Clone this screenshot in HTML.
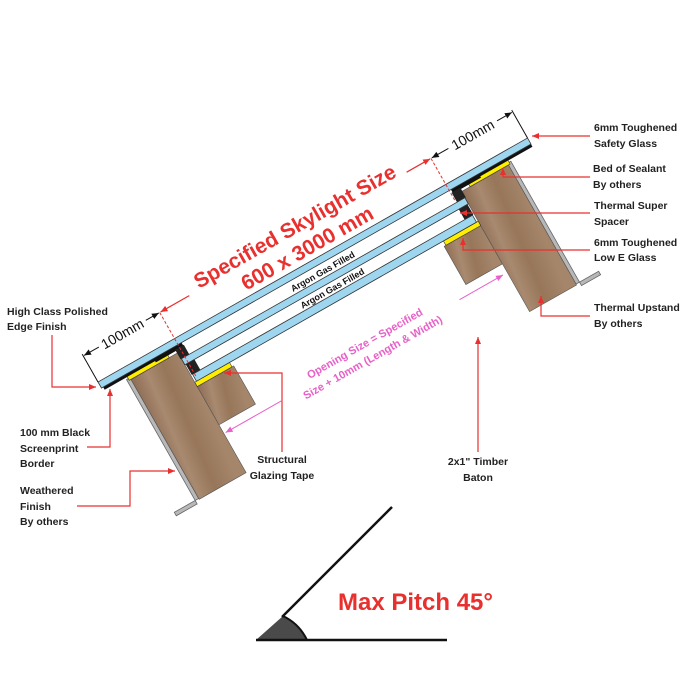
<!DOCTYPE html>
<html><head><meta charset="utf-8"><style>
html,body{margin:0;padding:0;background:#fff;}
svg{display:block;}
text{font-family:"Liberation Sans",sans-serif;}
.lb{font-size:10.5px;font-weight:bold;fill:#222;}
</style></head><body>
<svg width="700" height="700" viewBox="0 0 700 700" xmlns="http://www.w3.org/2000/svg">
<defs>
<linearGradient id="wood" x1="0" y1="0" x2="1" y2="0.3">
<stop offset="0" stop-color="#8e6d55"/><stop offset="0.3" stop-color="#a88a70"/><stop offset="0.6" stop-color="#977659"/><stop offset="1" stop-color="#a5866b"/>
</linearGradient>
<marker id="ar" markerWidth="8" markerHeight="8" refX="7" refY="4" orient="auto" markerUnits="userSpaceOnUse"><path d="M0,1 L7,4 L0,7 Z" fill="#e8302e"/></marker>
<marker id="ak" markerWidth="8" markerHeight="8" refX="7" refY="4" orient="auto" markerUnits="userSpaceOnUse"><path d="M0,1 L7,4 L0,7 Z" fill="#111"/></marker>
<marker id="ap" markerWidth="8" markerHeight="8" refX="7" refY="4" orient="auto" markerUnits="userSpaceOnUse"><path d="M0,1 L7,4 L0,7 Z" fill="#e860c8"/></marker>
</defs>

<g transform="translate(98,382) rotate(-29.6)">
 <path d="M26,12 L30,12 L30,151 L2,151 L2,155 L26,155 Z" fill="#b8b8b8" stroke="#666" stroke-width="0.8"/>
 <path d="M468,12 L464,12 L464,151 L490,151 L490,155 L468,155 Z" fill="#b8b8b8" stroke="#666" stroke-width="0.8"/>
 <rect x="84" y="53" width="42" height="44" fill="url(#wood)" stroke="#555" stroke-width="0.6"/>
 <rect x="368" y="53" width="42" height="44" fill="url(#wood)" stroke="#555" stroke-width="0.6"/>
 <rect x="30" y="14" width="54" height="138" fill="url(#wood)" stroke="#555" stroke-width="0.6"/>
 <rect x="410" y="14" width="54" height="138" fill="url(#wood)" stroke="#555" stroke-width="0.6"/>
 <rect x="28" y="9" width="46" height="5" fill="#ffee00" stroke="#333" stroke-width="0.6"/>
 <rect x="420" y="9" width="46" height="5" fill="#ffee00" stroke="#333" stroke-width="0.6"/>
 <rect x="84" y="48" width="40" height="5" fill="#ffee00" stroke="#333" stroke-width="0.6"/>
 <rect x="370" y="48" width="40" height="5" fill="#ffee00" stroke="#333" stroke-width="0.6"/>
 <rect x="2" y="7" width="90" height="3" fill="#111"/>
 <rect x="60" y="7" width="32" height="4.5" fill="#111"/>
 <rect x="402" y="7" width="92" height="3" fill="#111"/>
 <rect x="402" y="7" width="32" height="4.5" fill="#111"/>
 <rect x="83" y="10" width="10" height="11" fill="#222"/>
 <rect x="401" y="10" width="10" height="11" fill="#222"/>
 <rect x="85" y="28" width="10" height="12" fill="#222"/>
 <rect x="399" y="28" width="10" height="12" fill="#222"/>
 <rect x="0" y="0" width="494" height="7" fill="#9fd6ef" stroke="#333" stroke-width="0.8"/>
 <rect x="84" y="21" width="326" height="7" fill="#9fd6ef" stroke="#333" stroke-width="0.8"/>
 <rect x="86" y="40" width="322" height="8" fill="#9fd6ef" stroke="#333" stroke-width="0.8"/>
 <text x="250" y="18" font-size="9" font-weight="bold" text-anchor="middle" fill="#111">Argon Gas Filled</text>
 <text x="250" y="37.5" font-size="9" font-weight="bold" text-anchor="middle" fill="#111">Argon Gas Filled</text>
 <line x1="88" y1="-30" x2="88" y2="44" stroke="#e8302e" stroke-width="1" stroke-dasharray="3,2"/>
 <line x1="400" y1="-30" x2="400" y2="20" stroke="#e8302e" stroke-width="1" stroke-dasharray="3,2"/>
 <line x1="0" y1="-32" x2="0" y2="0" stroke="#111" stroke-width="1"/>
 <line x1="494" y1="-32" x2="494" y2="0" stroke="#111" stroke-width="1"/>
 <line x1="18" y1="-30" x2="1" y2="-30" stroke="#111" marker-end="url(#ak)"/>
 <line x1="72" y1="-30" x2="87" y2="-30" stroke="#111" marker-end="url(#ak)"/>
 <text x="45" y="-25" font-size="14" text-anchor="middle" fill="#111">100mm</text>
 <line x1="420" y1="-30" x2="401" y2="-30" stroke="#111" marker-end="url(#ak)"/>
 <line x1="476" y1="-30" x2="493" y2="-30" stroke="#111" marker-end="url(#ak)"/>
 <text x="448" y="-25" font-size="14" text-anchor="middle" fill="#111">100mm</text>
 <line x1="122" y1="-30" x2="89" y2="-30" stroke="#e8302e" stroke-width="1.2" marker-end="url(#ar)"/>
 <line x1="372" y1="-30" x2="399" y2="-30" stroke="#e8302e" stroke-width="1.2" marker-end="url(#ar)"/>
 <text x="248" y="-31" font-size="21" font-weight="bold" text-anchor="middle" fill="#e8302e">Specified Skylight Size</text>
 <text x="248" y="-6" font-size="21" font-weight="bold" text-anchor="middle" fill="#e8302e">600 x 3000 mm</text>
 <line x1="150" y1="107" x2="86" y2="107" stroke="#e860c8" stroke-width="1" marker-end="url(#ap)"/>
 <line x1="355" y1="107" x2="405" y2="107" stroke="#e860c8" stroke-width="1" marker-end="url(#ap)"/>
 <text x="251" y="102" font-size="11" font-weight="bold" text-anchor="middle" fill="#e860c8">Opening Size = Specified</text>
 <text x="251" y="118" font-size="11" font-weight="bold" text-anchor="middle" fill="#e860c8">Size + 10mm (Length &amp; Width)</text>
</g>

<g stroke="#e8302e" stroke-width="1.2" fill="none">
 <line x1="590" y1="136" x2="532" y2="136" marker-end="url(#ar)"/>
 <polyline points="590,177 503,177 503,168" marker-end="url(#ar)"/>
 <line x1="590" y1="213" x2="460" y2="213" marker-end="url(#ar)"/>
 <polyline points="590,250 463,250 463,238" marker-end="url(#ar)"/>
 <polyline points="590,316 541,316 541,296" marker-end="url(#ar)"/>
 <polyline points="478,452 478,337" marker-end="url(#ar)"/>
 <polyline points="282,452 282,373 224,373" marker-end="url(#ar)"/>
 <polyline points="52,335 52,387 96,387" marker-end="url(#ar)"/>
 <polyline points="87,447 110,447 110,389" marker-end="url(#ar)"/>
 <polyline points="77,506 130,506 130,471 175,471" marker-end="url(#ar)"/>
</g>

<text class="lb" x="594" y="131">6mm Toughened</text>
<text class="lb" x="594" y="147">Safety Glass</text>
<text class="lb" x="593" y="172">Bed of Sealant</text>
<text class="lb" x="593" y="188">By others</text>
<text class="lb" x="594" y="209">Thermal Super</text>
<text class="lb" x="594" y="225">Spacer</text>
<text class="lb" x="594" y="246">6mm Toughened</text>
<text class="lb" x="594" y="261">Low E Glass</text>
<text class="lb" x="594" y="311">Thermal Upstand</text>
<text class="lb" x="594" y="327">By others</text>
<text class="lb" x="7" y="315">High Class Polished</text>
<text class="lb" x="7" y="330">Edge Finish</text>
<text class="lb" x="20" y="436">100 mm Black</text>
<text class="lb" x="20" y="452">Screenprint</text>
<text class="lb" x="20" y="467">Border</text>
<text class="lb" x="20" y="494">Weathered</text>
<text class="lb" x="20" y="510">Finish</text>
<text class="lb" x="20" y="525">By others</text>
<text class="lb" x="282" y="463" text-anchor="middle">Structural</text>
<text class="lb" x="282" y="479" text-anchor="middle">Glazing Tape</text>
<text class="lb" x="478" y="465" text-anchor="middle">2x1" Timber</text>
<text class="lb" x="478" y="481" text-anchor="middle">Baton</text>

<path d="M256,640 L307,640 A51,51 0 0 0 283,616 Z" fill="#4a4a4a"/>
<path d="M307,640 A51,51 0 0 0 283,616" fill="none" stroke="#111" stroke-width="2"/>
<line x1="256" y1="640" x2="447" y2="640" stroke="#111" stroke-width="2.5"/>
<line x1="282" y1="617" x2="392" y2="507" stroke="#111" stroke-width="2.5"/>
<text x="338" y="610" font-size="24" font-weight="bold" fill="#e8302e">Max Pitch 45°</text>
</svg>
</body></html>
